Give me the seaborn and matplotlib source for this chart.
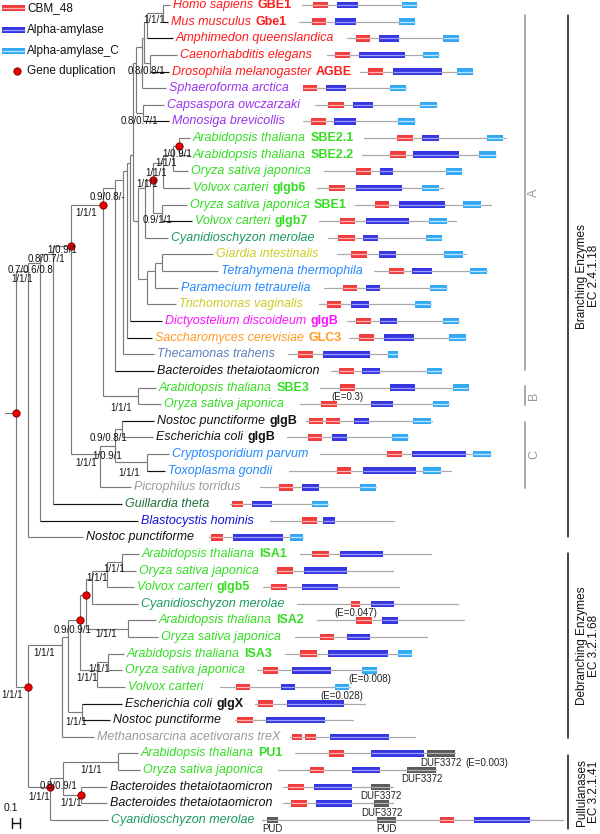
import numpy as np
import matplotlib
matplotlib.use("Agg")
import matplotlib.pyplot as plt
from matplotlib.patches import Rectangle
import seaborn as sns
import pandas as pd

# =============== DADOS ===============

RED, PURPLE, GREEN, TEAL = "#ff1a1a", "#9933ee", "#33dd22", "#1a9a5c"
OLIVE, BLUE, MAGENTA, ORANGE = "#cccc22", "#2288ff", "#ff11ff", "#ff9922"
STEEL, BLACK, GREY, DKGREEN, DKBLUE = "#5b7fb5", "#111111", "#9a9a9a", "#1d6e3e", "#1111dd"

species = [
    "Homo sapiens", "Mus musculus", "Amphimedon queenslandica", "Caenorhabditis elegans",
    "Drosophila melanogaster", "Sphaeroforma arctica", "Capsaspora owczarzaki", "Monosiga brevicollis",
    "Arabidopsis thaliana", "Arabidopsis thaliana", "Oryza sativa japonica", "Volvox carteri",
    "Oryza sativa japonica", "Volvox carteri", "Cyanidioschyzon merolae", "Giardia intestinalis",
    "Tetrahymena thermophila", "Paramecium tetraurelia", "Trichomonas vaginalis", "Dictyostelium discoideum",
    "Saccharomyces cerevisiae", "Thecamonas trahens", "Bacteroides thetaiotaomicron", "Arabidopsis thaliana",
    "Oryza sativa japonica", "Nostoc punctiforme", "Escherichia coli", "Cryptosporidium parvum",
    "Toxoplasma gondii", "Picrophilus torridus", "Guillardia theta", "Blastocystis hominis",
    "Nostoc punctiforme", "Arabidopsis thaliana", "Oryza sativa japonica", "Volvox carteri",
    "Cyanidioschyzon merolae", "Arabidopsis thaliana", "Oryza sativa japonica", "Arabidopsis thaliana",
    "Oryza sativa japonica", "Volvox carteri", "Escherichia coli", "Nostoc punctiforme",
    "Methanosarcina acetivorans treX", "Arabidopsis thaliana", "Oryza sativa japonica",
    "Bacteroides thetaiotaomicron", "Bacteroides thetaiotaomicron", "Cyanidioschyzon merolae",
]
genes = [
    "GBE1", "Gbe1", "", "", "AGBE", "", "", "",
    "SBE2.1", "SBE2.2", "", "glgb6", "SBE1", "glgb7", "", "",
    "", "", "", "glgB", "GLC3", "", "", "SBE3",
    "", "glgB", "glgB", "", "", "", "", "",
    "", "ISA1", "", "glgb5", "", "ISA2", "", "ISA3",
    "", "", "glgX", "", "", "PU1", "", "", "", "",
]
colors = [
    RED, RED, RED, RED, RED, PURPLE, PURPLE, PURPLE,
    GREEN, GREEN, GREEN, GREEN, GREEN, GREEN, TEAL, OLIVE,
    BLUE, BLUE, OLIVE, MAGENTA, ORANGE, STEEL, BLACK, GREEN,
    GREEN, BLACK, BLACK, BLUE, BLUE, GREY, DKGREEN, DKBLUE,
    BLACK, GREEN, GREEN, GREEN, TEAL, GREEN, GREEN, GREEN,
    GREEN, GREEN, BLACK, BLACK, GREY, GREEN, GREEN, BLACK, BLACK, TEAL,
]

# fim de cada ramo terminal (eixo x da árvore, em px do desenho)
tip_x = [170, 168, 173, 177, 169, 166, 164, 169, 190, 190, 188, 190, 187, 192, 168, 213,
         218, 178, 176, 162, 152, 154, 154, 156, 161, 154, 153, 169, 165, 131, 122, 138,
         83, 139, 136, 134, 138, 156, 158, 124, 122, 125, 122, 110, 94, 138, 140, 107, 107, 108]
black_tips = [1, 2, 4, 7, 13, 19, 20, 22, 25, 28, 30, 31, 42, 43]

# nós internos: (primeira folha, última folha, x do nó, suporte, duplicação)
nodes = [
    (0, 49, 16, "", True),
    (0, 32, 28, "1/1/1", False),
    (0, 31, 40, "0.7/0.6/0.8", False),
    (0, 30, 53, "0.8/0.7/1", False),
    (0, 29, 71, "1/0.9/1", True),
    (0, 24, 103, "1/1/1", True),
    (0, 22, 115, "0.9/0.8/-", False),
    (0, 21, 123, "", False),
    (0, 20, 127, "", False),
    (0, 19, 130, "", False),
    (0, 18, 133, "", False),
    (0, 7, 136, "", False),
    (0, 5, 142, "", False),
    (0, 4, 144, "", False),
    (0, 2, 147, "", False),
    (0, 1, 163, "1/1/1", False),
    (3, 4, 150, "0.8/0.8/1", False),
    (6, 7, 143, "0.8/0.7/1", False),
    (8, 18, 138, "", False),
    (8, 14, 145, "", False),
    (8, 13, 153, "1/1/1", True),
    (8, 11, 163, "1/1/1", False),
    (8, 10, 173, "1/1/1", False),
    (8, 9, 179, "1/0.9/1", True),
    (12, 13, 162, "0.9/1/1", False),
    (15, 18, 147, "", False),
    (15, 17, 155, "", False),
    (15, 16, 162, "", False),
    (23, 24, 138, "1/1/1", False),
    (25, 29, 100, "1/1/1", False),
    (25, 28, 115, "1/0.9/1", False),
    (25, 26, 122, "0.9/0.8/1", False),
    (27, 28, 147, "1/1/1", False),
    (33, 49, 28, "1/1/1", True),
    (33, 44, 62, "1/1/1", False),
    (33, 43, 68, "0.9/0.9/1", False),
    (33, 41, 80, "", True),
    (33, 38, 86, "", True),
    (33, 36, 92, "", False),
    (33, 35, 107, "1/1/1", False),
    (33, 34, 122, "1/1/1", False),
    (37, 38, 128, "1/1/1", False),
    (39, 41, 97, "1/1/1", False),
    (39, 40, 108, "1/1/1", False),
    (42, 43, 82, "1/1/1", False),
    (45, 49, 50, "1/1/1", True),
    (45, 48, 63, "0.8/0.9/1", False),
    (45, 46, 118, "1/1/1", False),
    (47, 48, 81, "1/1/1", True),
]
root_stub = 5

# proteínas: início e fim da linha
prot_start = [302, 299, 347, 327, 360, 303, 315, 303, 364, 362, 324, 317, 355, 319, 328, 337,
              374, 324, 319, 347, 349, 288, 331, 320, 300, 306, 287, 320, 289, 260, 230, 270,
              209, 300, 275, 263, 297, 317, 295, 285, 257, 220, 255, 235, 290, 295, 278, 283, 283, 262]
prot_end = [417, 415, 459, 439, 473, 406, 437, 415, 506, 496, 462, 443, 491, 456, 442, 466,
            487, 447, 431, 459, 466, 398, 442, 469, 449, 432, 408, 491, 451, 376, 328, 394,
            303, 431, 393, 399, 458, 464, 427, 412, 377, 350, 365, 353, 415, 455, 436, 393, 393, 563]

# domínios: (linha, tipo, início, fim, valor E)
domains = [
    (0, "C", 313, 328, ""), (0, "A", 337, 358, ""), (0, "L", 402, 417, ""),
    (1, "C", 312, 326, ""), (1, "A", 335, 356, ""), (1, "L", 399, 415, ""),
    (2, "C", 356, 370, ""), (2, "A", 379, 399, ""), (2, "L", 443, 459, ""),
    (3, "C", 335, 350, ""), (3, "A", 359, 405, ""), (3, "L", 423, 439, ""),
    (4, "C", 368, 383, ""), (4, "A", 393, 442, ""), (4, "L", 457, 473, ""),
    (5, "C", 303, 317, ""), (5, "A", 326, 346, ""), (5, "L", 390, 406, ""),
    (6, "C", 328, 344, ""), (6, "A", 353, 373, ""), (6, "L", 420, 437, ""),
    (7, "C", 311, 326, ""), (7, "A", 334, 356, ""), (7, "L", 398, 415, ""),
    (8, "C", 397, 413, ""), (8, "A", 422, 439, ""), (8, "L", 487, 503, ""),
    (9, "C", 390, 406, ""), (9, "A", 413, 459, ""), (9, "L", 479, 496, ""),
    (10, "C", 356, 371, ""), (10, "A", 380, 393, ""), (10, "L", 446, 462, ""),
    (11, "C", 329, 345, ""), (11, "A", 356, 402, ""), (11, "L", 422, 439, ""),
    (12, "C", 375, 389, ""), (12, "A", 399, 445, ""), (12, "L", 463, 481, ""),
    (13, "C", 340, 355, ""), (13, "A", 366, 409, ""), (13, "L", 429, 447, ""),
    (14, "C", 338, 355, ""), (14, "A", 363, 378, ""), (14, "L", 426, 442, ""),
    (15, "C", 351, 367, ""), (15, "A", 379, 396, ""), (15, "L", 444, 463, ""),
    (16, "C", 389, 404, ""), (16, "A", 412, 432, ""), (16, "L", 470, 487, ""),
    (17, "C", 343, 357, ""), (17, "A", 366, 380, ""), (17, "L", 430, 447, ""),
    (18, "C", 327, 341, ""), (18, "A", 351, 369, ""), (18, "L", 415, 431, ""),
    (19, "C", 356, 371, ""), (19, "A", 380, 397, ""), (19, "L", 443, 459, ""),
    (20, "C", 359, 374, ""), (20, "A", 384, 414, ""), (20, "L", 449, 466, ""),
    (21, "C", 298, 313, ""), (21, "A", 323, 370, ""), (21, "L", 388, 398, ""),
    (22, "C", 339, 354, ""), (22, "A", 362, 380, ""), (22, "L", 427, 442, ""),
    (23, "C", 340, 355, "(E=0.3)"), (23, "A", 390, 415, ""), (23, "L", 453, 469, ""),
    (24, "C", 321, 337, ""), (24, "A", 371, 393, ""), (24, "L", 433, 449, ""),
    (25, "C", 309, 323, ""), (25, "C", 326, 340, ""), (25, "A", 354, 369, ""), (25, "L", 413, 431, ""),
    (26, "C", 308, 322, ""), (26, "A", 332, 347, ""), (26, "L", 392, 408, ""),
    (27, "C", 387, 402, ""), (27, "A", 412, 466, ""), (27, "L", 473, 491, ""),
    (28, "C", 337, 351, ""), (28, "A", 363, 416, ""), (28, "L", 423, 441, ""),
    (29, "C", 279, 293, ""), (29, "A", 302, 319, ""), (29, "L", 360, 376, ""),
    (30, "C", 232, 243, ""), (30, "A", 252, 272, ""), (30, "L", 312, 328, ""),
    (31, "C", 302, 317, ""), (31, "A", 323, 335, ""),
    (32, "C", 211, 223, ""), (32, "A", 233, 283, ""), (32, "L", 290, 303, ""),
    (33, "C", 312, 329, ""), (33, "A", 340, 383, ""),
    (34, "C", 277, 293, ""), (34, "A", 304, 347, ""),
    (35, "C", 271, 287, ""), (35, "A", 302, 338, ""),
    (36, "C", 351, 360, "(E=0.047)"), (36, "A", 371, 394, ""),
    (37, "C", 356, 372, ""), (37, "A", 382, 398, ""),
    (38, "C", 320, 334, ""), (38, "A", 347, 370, ""),
    (39, "C", 300, 317, ""), (39, "A", 328, 388, ""), (39, "L", 398, 412, ""),
    (40, "C", 263, 278, ""), (40, "A", 292, 331, ""), (40, "L", 362, 377, "(E=0.008)"),
    (41, "C", 236, 250, ""), (41, "A", 281, 295, ""), (41, "L", 335, 349, "(E=0.028)"),
    (42, "C", 258, 273, ""), (42, "A", 287, 344, ""),
    (43, "C", 237, 253, ""), (43, "A", 266, 325, ""),
    (44, "C", 292, 302, ""), (44, "C", 305, 316, ""), (44, "A", 330, 389, ""),
    (45, "C", 329, 344, ""), (45, "A", 371, 424, ""), (45, "D", 427, 455, "(E=0.003)"),
    (46, "C", 310, 324, ""), (46, "A", 352, 380, ""), (46, "D", 407, 436, ""),
    (47, "C", 288, 304, ""), (47, "A", 314, 352, ""), (47, "D", 371, 390, ""),
    (48, "C", 291, 307, ""), (48, "A", 316, 352, ""), (48, "D", 374, 389, ""),
    (49, "P", 267, 278, ""), (49, "P", 377, 396, ""), (49, "C", 440, 454, ""), (49, "A", 474, 530, ""),
]
dom_names = {"C": "CBM_48", "A": "Alpha-amylase", "L": "Alpha-amylase_C", "D": "DUF3372", "P": "PUD"}
dom_dark = {"C": "#f03c3c", "A": "#3636e0", "L": "#33a8f5", "D": "#5a5a5a", "P": "#5a5a5a"}
dom_light = {"C": "#ffb0b0", "A": "#9a9aff", "L": "#b8e4ff", "D": "#b0b0b0", "P": "#b0b0b0"}

clades = [("A", 0.6, 21.95), ("B", 22.9, 24.05), ("C", 25.05, 29.05)]
groups = [("Branching Enzymes\nEC 2.4.1.18", 0.6, 32.0),
          ("Debranching Enzymes\nEC 3.2.1.68", 32.95, 44.07),
          ("Pullulanases\nEC 3.2.1.41", 45.1, 49.55)]

# deslocamento (px) da borda direita / centro do rótulo de suporte em relação ao nó
label_nudge = {
    (0, 1): (2, 6.5), (3, 4): (15, 8), (6, 7): (15, 8), (8, 9): (13, 8), (8, 10): (4, 8.5),
    (8, 11): (4, 9.5), (8, 13): (5, 4.5), (12, 13): (10, 7.5), (0, 22): (10, 9), (0, 24): (-6, 8),
    (0, 29): (6, 4), (0, 30): (12, 5), (0, 31): (13, 7.5), (0, 32): (5, 8), (23, 24): (-6, 12),
    (25, 26): (5, 9), (25, 28): (7, 10), (25, 29): (-3, 9), (27, 28): (-7, 11), (33, 34): (3, 7),
    (33, 35): (1, 7), (37, 38): (-11, 5), (33, 43): (24, -7.5), (33, 44): (-7, 7.5),
    (39, 40): (2, 7), (39, 41): (1, 7.5), (42, 43): (5, 10.5), (33, 49): (-5, 8.5),
    (45, 46): (-16, 8.5), (45, 48): (14, 8), (47, 48): (1, 7.5), (45, 49): (0, 10.5),
}

# =============== FIGURA ===============
sns.set_theme(style="white")
plt.rcParams["font.family"] = ["Liberation Sans", "DejaVu Sans"]

fig = plt.figure(figsize=(6, 8.34), dpi=100)
ax = fig.add_axes([0, 0, 1, 1])
ax.set_xlim(0, 600)
ax.set_ylim(49.84, -0.30)
ax.axis("off")

ROW_PX = 16.633
TREE = "#7a7a7a"
LW = 0.85
BOX_H = 0.39

n_leaf = len(species)
node_df = pd.DataFrame(nodes, columns=["lo", "hi", "x", "support", "dup"])
node_df["y"] = (node_df["lo"] + node_df["hi"]) / 2


def children(lo, hi):
    inner = node_df[(node_df.lo >= lo) & (node_df.hi <= hi) & ~((node_df.lo == lo) & (node_df.hi == hi))]
    kids = []
    for _, r in inner.iterrows():
        bigger = inner[(inner.lo <= r.lo) & (inner.hi >= r.hi) & ~((inner.lo == r.lo) & (inner.hi == r.hi))]
        if len(bigger) == 0:
            kids.append((r.x, r.y, TREE))
    covered = set()
    for _, r in inner.iterrows():
        covered.update(range(int(r.lo), int(r.hi) + 1))
    for i in range(lo, hi + 1):
        if i not in covered:
            kids.append((tip_x[i], i, BLACK if i in black_tips else TREE))
    return kids


for _, nd in node_df.iterrows():
    kids = children(int(nd.lo), int(nd.hi))
    ys = [k[1] for k in kids]
    ax.plot([nd.x, nd.x], [min(ys), max(ys)], color=TREE, lw=LW, solid_capstyle="butt")
    for kx, ky, kc in kids:
        ax.plot([nd.x, kx], [ky, ky], color=kc, lw=LW, solid_capstyle="butt")
    if nd.support:
        dx, dy = label_nudge.get((int(nd.lo), int(nd.hi)), (8, 6))
        ax.text(nd.x + dx, nd.y + dy / ROW_PX, nd.support, fontsize=7, ha="right", va="center",
                color="#111111", zorder=6)

root = node_df.iloc[0]
ax.plot([root_stub, root.x], [root.y, root.y], color=TREE, lw=LW)

dups = node_df[node_df.dup]
sns.scatterplot(x=dups["x"], y=dups["y"], ax=ax, s=28, color="#ee0000",
                edgecolor="#700000", linewidth=0.6, zorder=5, legend=False)

# nomes das espécies
for i in range(n_leaf):
    t = ax.text(tip_x[i] + 3, i, species[i], style="italic", color=colors[i],
                fontsize=9, ha="left", va="center")
    if genes[i]:
        ax.annotate(genes[i], xy=(1, 0.5), xycoords=t, xytext=(3, 0), textcoords="offset points",
                    fontweight="bold", color=colors[i], fontsize=9, ha="left", va="center")


def draw_box(kind, s, e, y):
    ax.add_patch(Rectangle((s, y - BOX_H / 2), e - s, BOX_H, facecolor=dom_dark[kind], lw=0, zorder=3))
    ax.plot([s, e], [y, y], color=dom_light[kind], lw=0.9, zorder=4, solid_capstyle="butt")


# arquitetura de domínios
for i in range(n_leaf):
    ax.plot([prot_start[i], prot_end[i]], [i, i], color="#aaaaaa", lw=0.9, zorder=2)
for row, kind, s, e, ev in domains:
    draw_box(kind, s, e, row)
    cx = (s + e) / 2
    if kind in ("D", "P"):
        t = ax.text(cx, row + 0.25, dom_names[kind], fontsize=7, ha="center", va="top", color="#222222")
        if ev:
            ax.annotate(ev, xy=(1, 1), xycoords=t, xytext=(3, 0), textcoords="offset points",
                        fontsize=7, ha="left", va="top", color="#222222")
    elif ev:
        ax.text(cx, row + 0.25, ev, fontsize=7, ha="center", va="top", color="#222222")

# legenda
leg_rows = [0.18, 1.5, 2.77]
for r, kind in zip(leg_rows, ["C", "A", "L"]):
    draw_box(kind, 2, 25, r)
    ax.text(27, r, dom_names[kind], fontsize=8.5, ha="left", va="center", color="#111111")
ax.scatter([17], [3.97], s=28, color="#ee0000", edgecolor="#700000", linewidth=0.6, zorder=5)
ax.text(27, 3.97, "Gene duplication", fontsize=8.5, ha="left", va="center", color="#111111")

# barra de escala
ax.text(11, 48.28, "0.1", fontsize=7.5, ha="center", va="center", color="#111111")
ax.plot([12, 12], [48.9, 49.5], color="#111111", lw=1)
ax.plot([20, 20], [48.9, 49.5], color="#111111", lw=1)
ax.plot([12, 20], [49.2, 49.2], color="#111111", lw=1)

# clados A, B, C e grupos de enzimas
for name, a, b in clades:
    ax.plot([525, 525], [a, b], color="#aaaaaa", lw=1.4)
    ax.text(534, (a + b) / 2, name, rotation=90, fontsize=9, color="#999999", ha="center", va="center")
for name, a, b in groups:
    ax.plot([568, 568], [a, b], color="#111111", lw=1.1)
    ax.text(588, (a + b) / 2, name, rotation=90, fontsize=8.5, color="#111111",
            ha="center", va="center", multialignment="center", linespacing=1.0)

fig.savefig("out.png", dpi=100)
